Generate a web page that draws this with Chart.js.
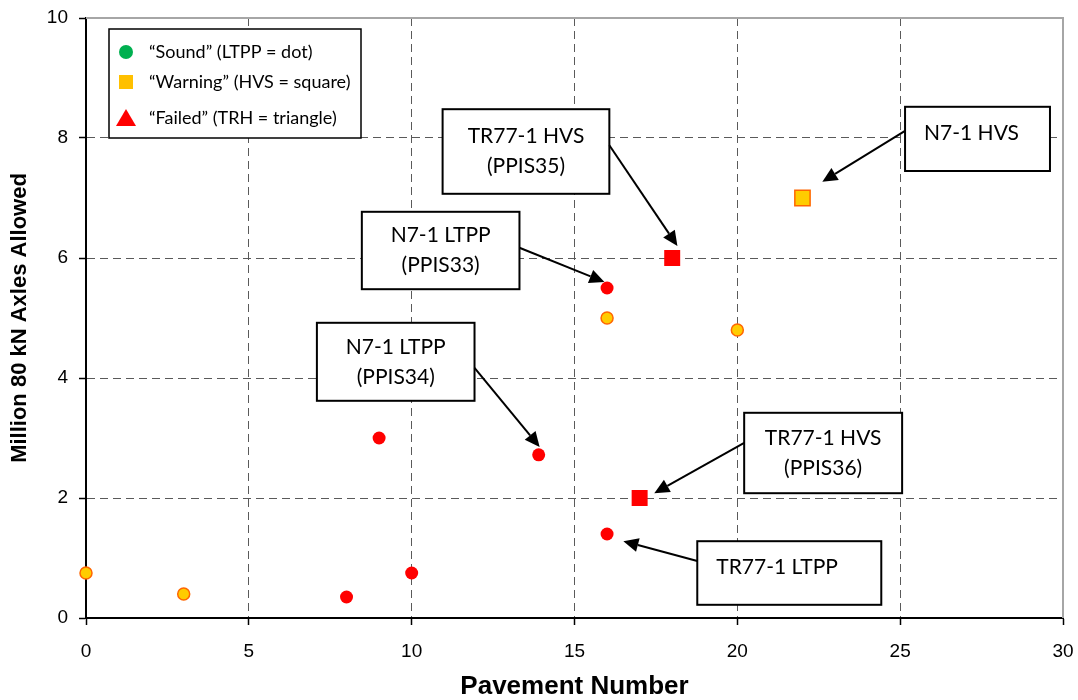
<!DOCTYPE html>
<html>
<head>
<meta charset="utf-8">
<script src="https://cdn.jsdelivr.net/npm/chart.js@4.4.1/dist/chart.umd.min.js"></script>
<style>
  html, body { margin: 0; padding: 0; background: #fff; }
  canvas { display: block; }
</style>
</head>
<body>
<canvas id="c" width="1078" height="700"></canvas>
<script>
// ---- data ----
const xTicksStep = 5;
const yTicksStep = 2;
const xRange = [0, 30];
const yRange = [0, 10];

const ltppFailedX = [8, 9, 10, 13.9, 16, 16];
const ltppFailedY = [0.35, 3.0, 0.75, 2.72, 5.5, 1.4];
const ltppWarnX = [0, 3, 16, 20];
const ltppWarnY = [0.75, 0.4, 5.0, 4.8];
const hvsFailedX = [17, 18];
const hvsFailedY = [2.0, 6.0];
const hvsWarnX = [22];
const hvsWarnY = [7.0];

const legendLabels = ['\u201CSound\u201D (LTPP = dot)', '\u201CWarning\u201D (HVS = square)', '\u201CFailed\u201D (TRH = triangle)'];
const xTitle = 'Pavement Number';
const yTitle = 'Million 80 kN Axles Allowed';

// callouts (in data units)
const calloutText = [
  ['TR77-1 HVS', '(PPIS35)'],
  ['N7-1 HVS'],
  ['N7-1 LTPP', '(PPIS33)'],
  ['N7-1 LTPP', '(PPIS34)'],
  ['TR77-1 HVS', '(PPIS36)'],
  ['TR77-1 LTPP']
];
const calloutBox = [
  [10.95, 8.48, 16.07, 7.07],
  [25.15, 8.52, 29.6, 7.45],
  [8.47, 6.77, 13.31, 5.48],
  [7.09, 4.92, 11.93, 3.62],
  [20.21, 3.42, 25.06, 2.08],
  [18.77, 1.28, 24.42, 0.22]
];
const calloutFrom = [[16.07, 7.88], [25.15, 8.12], [13.31, 6.17], [11.93, 4.17], [20.21, 2.92], [18.77, 0.95]];
const calloutTo = [[18.16, 6.2], [22.61, 7.27], [15.92, 5.6], [13.93, 2.85], [17.45, 2.08], [16.5, 1.28]];
const calloutLeftAligned = [false, true, false, false, false, true];

function pts(xs, ys) { return xs.map((x, i) => ({x: x, y: ys[i]})); }

const ORANGE_FILL = '#FFCC00';
const ORANGE_EDGE = '#FF6600';
const RED = '#FF0000';
const ANN_FONT = '21px Lato, "Noto Sans", sans-serif';

const bgPlugin = {
  id: 'bg',
  beforeDraw(chart) {
    const ctx = chart.ctx;
    ctx.save();
    ctx.fillStyle = '#fff';
    ctx.fillRect(0, 0, chart.width, chart.height);
    ctx.restore();
  },
  beforeDatasetsDraw(chart) {
    const {ctx, chartArea: a} = chart;
    ctx.save();
    ctx.strokeStyle = '#A6A6A6';
    ctx.lineWidth = 2;
    ctx.beginPath();
    ctx.moveTo(a.left, a.top);
    ctx.lineTo(a.right, a.top);
    ctx.lineTo(a.right, a.bottom);
    ctx.stroke();
    ctx.restore();
  }
};

function arrow(ctx, x1, y1, x2, y2) {
  const ang = Math.atan2(y2 - y1, x2 - x1);
  const hl = 15, hw = 7;
  const bx = x2 - hl * Math.cos(ang), by = y2 - hl * Math.sin(ang);
  ctx.beginPath();
  ctx.moveTo(x1, y1);
  ctx.lineTo(bx, by);
  ctx.stroke();
  ctx.beginPath();
  ctx.moveTo(x2, y2);
  ctx.lineTo(bx + hw * Math.sin(ang), by - hw * Math.cos(ang));
  ctx.lineTo(bx - hw * Math.sin(ang), by + hw * Math.cos(ang));
  ctx.closePath();
  ctx.fill();
}

const annPlugin = {
  id: 'ann',
  afterDatasetsDraw(chart) {
    const {ctx, scales: {x, y}, chartArea: a} = chart;
    ctx.save();
    for (let i = 0; i < calloutText.length; i++) {
      const b = calloutBox[i];
      const l = x.getPixelForValue(b[0]), t = y.getPixelForValue(b[1]);
      const r = x.getPixelForValue(b[2]), bt = y.getPixelForValue(b[3]);
      ctx.fillStyle = '#fff';
      ctx.fillRect(l, t, r - l, bt - t);
      ctx.strokeStyle = '#000';
      ctx.lineWidth = 2;
      ctx.strokeRect(l, t, r - l, bt - t);
      ctx.fillStyle = '#000';
      ctx.font = ANN_FONT;
      ctx.textBaseline = 'middle';
      const lines = calloutText[i];
      if (calloutLeftAligned[i]) {
        ctx.textAlign = 'left';
        ctx.fillText(lines[0], l + 19, t + 26);
      } else {
        ctx.textAlign = 'center';
        const cx = (l + r) / 2, cy = (t + bt) / 2;
        const lh = 30;
        lines.forEach((s, k) => ctx.fillText(s, cx, cy + (k - (lines.length - 1) / 2) * lh));
      }
      const f = calloutFrom[i], to = calloutTo[i];
      ctx.strokeStyle = '#000';
      ctx.fillStyle = '#000';
      ctx.lineWidth = 2;
      arrow(ctx, x.getPixelForValue(f[0]), y.getPixelForValue(f[1]), x.getPixelForValue(to[0]), y.getPixelForValue(to[1]));
    }
    // legend box
    const lx = a.left + 23, ly = a.top + 11, lw = 252, lh = 109;
    ctx.fillStyle = '#fff';
    ctx.fillRect(lx, ly, lw, lh);
    ctx.strokeStyle = '#000';
    ctx.lineWidth = 1.5;
    ctx.strokeRect(lx, ly, lw, lh);
    const rowsY = [ly + 23, ly + 53, ly + 89];
    const mx = lx + 17;
    ctx.fillStyle = '#00B050';
    ctx.beginPath();
    ctx.arc(mx, rowsY[0], 7, 0, Math.PI * 2);
    ctx.fill();
    ctx.fillStyle = '#FFC000';
    ctx.fillRect(mx - 7, rowsY[1] - 7, 14, 14);
    ctx.fillStyle = RED;
    ctx.beginPath();
    ctx.moveTo(mx, rowsY[2] - 9);
    ctx.lineTo(mx + 10, rowsY[2] + 8);
    ctx.lineTo(mx - 10, rowsY[2] + 8);
    ctx.closePath();
    ctx.fill();
    ctx.fillStyle = '#000';
    ctx.font = '18px Lato, "Noto Sans", sans-serif';
    ctx.textAlign = 'left';
    ctx.textBaseline = 'middle';
    legendLabels.forEach((s, k) => ctx.fillText(s, lx + 40, rowsY[k]));
    ctx.restore();
  }
};

const gridColor = (edgeMax) => (c) => {
  if (c.tick && (c.tick.value === 0 || c.tick.value === edgeMax)) return 'rgba(0,0,0,0)';
  return '#5a5a5a';
};

function zeroPad(s) {
  s.paddingLeft = 0; s.paddingRight = 0; s.paddingTop = 0; s.paddingBottom = 0;
}

new Chart(document.getElementById('c'), {
  type: 'scatter',
  data: {
    datasets: [
      { data: pts(ltppWarnX, ltppWarnY), pointStyle: 'circle', pointRadius: 6, borderWidth: 1.5, clip: false,
        backgroundColor: ORANGE_FILL, borderColor: ORANGE_EDGE },
      { data: pts(ltppFailedX, ltppFailedY), pointStyle: 'circle', pointRadius: 6.5, borderWidth: 0, clip: false,
        backgroundColor: RED, borderColor: RED },
      { data: pts(hvsWarnX, hvsWarnY), pointStyle: 'rect', pointRadius: 10.8, borderWidth: 1.5, clip: false,
        backgroundColor: ORANGE_FILL, borderColor: ORANGE_EDGE },
      { data: pts(hvsFailedX, hvsFailedY), pointStyle: 'rect', pointRadius: 11.3, borderWidth: 0, clip: false,
        backgroundColor: RED, borderColor: RED }
    ]
  },
  options: {
    responsive: false,
    animation: false,
    events: [],
    layout: { padding: { left: 0, top: 18, right: 15, bottom: 0 } },
    plugins: { legend: { display: false }, tooltip: { enabled: false } },
    scales: {
      x: {
        type: 'linear', min: xRange[0], max: xRange[1],
        afterFit(s) { s.height = 82; zeroPad(s); },
        ticks: { stepSize: xTicksStep, color: '#000', padding: 15,
                 font: { family: '"Liberation Sans", Arial, sans-serif', size: 19 } },
        grid: { color: gridColor(xRange[1]), lineWidth: 1, tickColor: '#000', tickLength: 7, tickWidth: 1.5 },
        border: { color: '#000', width: 2, dash: [8, 5] },
        title: { display: true, text: xTitle, color: '#000', padding: { top: 0, bottom: 0 },
                 font: { family: '"Liberation Sans", Arial, sans-serif', size: 26, weight: 'bold', lineHeight: 1.0 } }
      },
      y: {
        type: 'linear', min: yRange[0], max: yRange[1],
        afterFit(s) { s.width = 86; zeroPad(s); },
        ticks: { stepSize: yTicksStep, color: '#000', padding: 11,
                 font: { family: '"Liberation Sans", Arial, sans-serif', size: 19 } },
        grid: { color: gridColor(yRange[1]), lineWidth: 1, tickColor: '#000', tickLength: 7, tickWidth: 1.5 },
        border: { color: '#000', width: 2, dash: [8, 5] },
        title: { display: true, text: yTitle, color: '#000', padding: { top: 7, bottom: 0 },
                 font: { family: '"Liberation Sans", Arial, sans-serif', size: 22, weight: 'bold' } }
      }
    }
  },
  plugins: [bgPlugin, annPlugin]
});
</script>
</body>
</html>
